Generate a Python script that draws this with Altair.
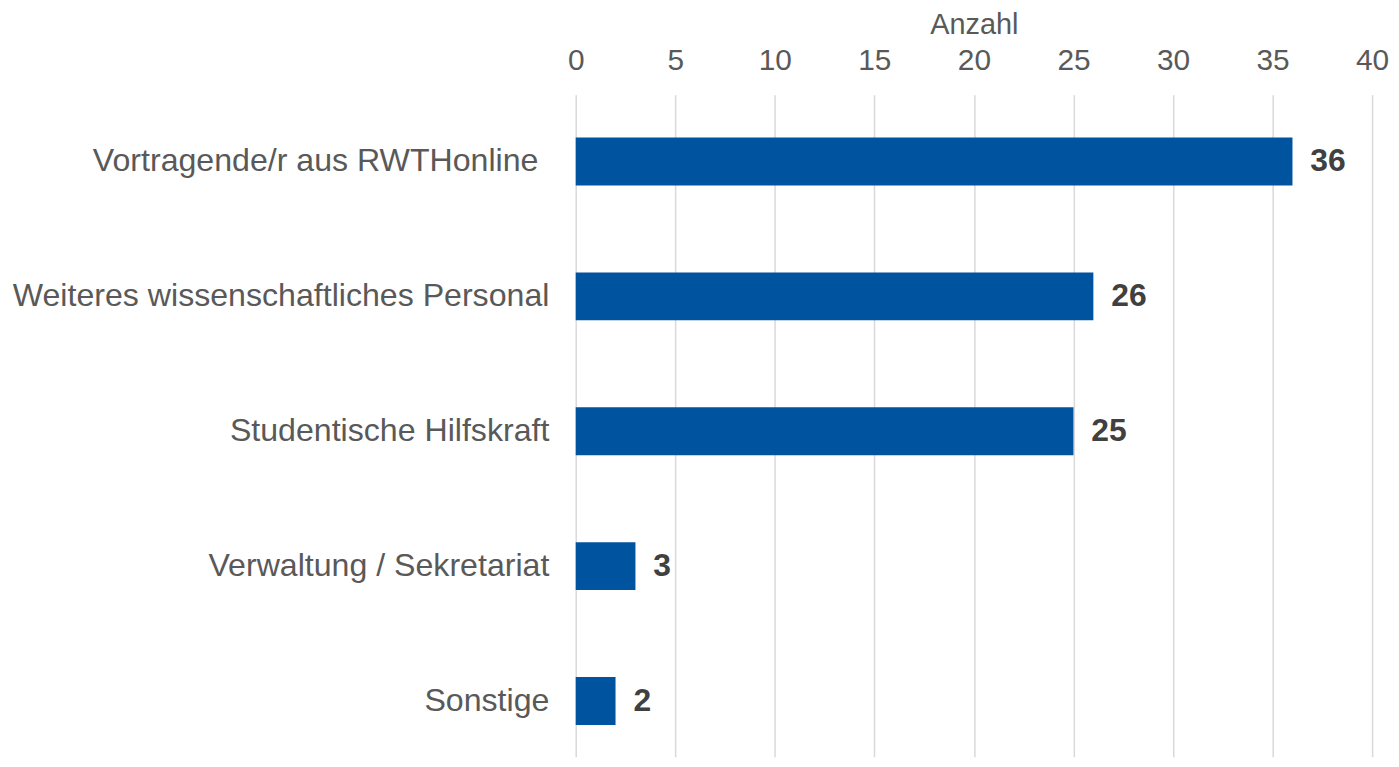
import altair as alt
import pandas as pd

categories = [
    "Vortragende/r aus RWTHonline",
    "Weiteres wissenschaftliches Personal",
    "Studentische Hilfskraft",
    "Verwaltung / Sekretariat",
    "Sonstige",
]
values = [36, 26, 25, 3, 2]
x_ticks = [0, 5, 10, 15, 20, 25, 30, 35, 40]

df = pd.DataFrame({"Kategorie": categories, "Anzahl": values})

FONT = "Liberation Sans"

x_enc = alt.X(
    "Anzahl:Q",
    scale=alt.Scale(domain=[0, 40], nice=False),
    axis=alt.Axis(
        orient="top",
        title="Anzahl",
        values=x_ticks,
        ticks=False,
        domain=False,
        grid=True,
        gridColor="#d9d9d9",
        gridWidth=1.5,
        labelFlush=False,
        labelFont=FONT,
        labelFontSize=30,
        labelColor="#595959",
        labelPadding=19,
        titleFont=FONT,
        titleFontSize=29,
        titleFontWeight="normal",
        titleColor="#595959",
        titleY=-62,
        titleBaseline="alphabetic",
    ),
)

y_enc = alt.Y(
    "Kategorie:N",
    sort=categories,
    scale=alt.Scale(paddingInner=0.645, paddingOuter=0.277, align=0.573),
    axis=alt.Axis(
        title=None,
        ticks=False,
        domain=False,
        grid=False,
        labelFont=FONT,
        labelFontSize=32.3,
        labelColor="#595959",
        labelPadding={
            "condition": {
                "test": "datum.value == 'Vortragende/r aus RWTHonline'",
                "value": 38,
            },
            "value": 27,
        },
        labelLimit=1000,
    ),
)

bars = alt.Chart(df).mark_bar(color="#00539F").encode(x=x_enc, y=y_enc)

text = alt.Chart(df).mark_text(
    align="left",
    baseline="middle",
    dx=18,
    font=FONT,
    fontSize=32,
    fontWeight="bold",
    color="#404040",
).encode(
    x=alt.X("Anzahl:Q"),
    y=alt.Y("Kategorie:N", sort=categories),
    text=alt.Text("Anzahl:Q"),
)

chart = (
    alt.layer(bars, text)
    .properties(
        width=801,
        height=666,
        background="white",
        autosize=alt.AutoSizeParams(type="none"),
        padding={"left": 571, "top": 85, "right": 19, "bottom": 0},
    )
    .configure_view(strokeWidth=0, strokeOpacity=0)
    .configure_axis(domain=False, ticks=False)
    .configure_axisY(grid=False)
)

chart.save("out.html", embed_options={"renderer": "svg", "actions": False})
